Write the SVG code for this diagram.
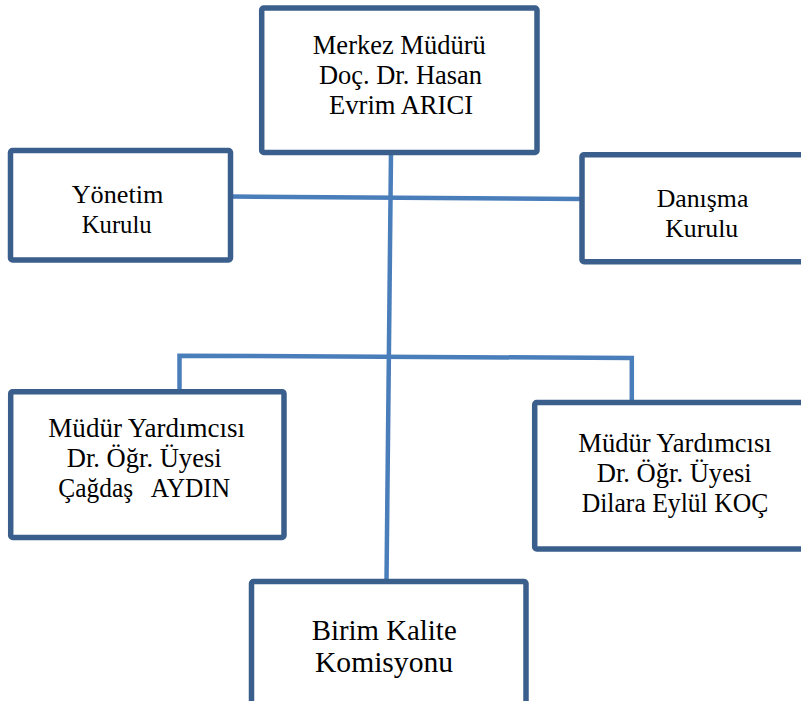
<svg xmlns="http://www.w3.org/2000/svg" width="801" height="701" viewBox="0 0 801 701">
<style>
.box{fill:#ffffff;stroke:#3a5f8d;stroke-width:5.5;stroke-linejoin:round}
.con{stroke:#4a7ebb;stroke-width:4.5;fill:none;stroke-linecap:butt}
</style>
<rect width="801" height="701" fill="#ffffff"/>
<g id="connectors">
<line class="con" x1="391" y1="153" x2="386.5" y2="581"/>
<line class="con" x1="231" y1="196.5" x2="582" y2="199"/>
<polyline class="con" points="179.5,393 179.5,355.7 631.8,358 631.8,402"/>
</g>
<g id="merkez">
<rect class="box" x="261.7" y="8" width="275.3" height="144.5" rx="2"/>
<text x="399.3" y="54" font-family="Liberation Serif" font-size="26.6" text-anchor="middle" textLength="173" lengthAdjust="spacingAndGlyphs">Merkez Müdürü</text>
<text x="400.5" y="84" font-family="Liberation Serif" font-size="26.6" text-anchor="middle" textLength="163" lengthAdjust="spacingAndGlyphs">Doç. Dr. Hasan</text>
<text x="401" y="114" font-family="Liberation Serif" font-size="26.6" text-anchor="middle" textLength="144" lengthAdjust="spacingAndGlyphs">Evrim ARICI</text>
</g>
<g id="yonetim">
<rect class="box" x="10.5" y="150.5" width="220" height="109.5" rx="2"/>
<text x="117.5" y="203.3" font-family="Liberation Serif" font-size="26" text-anchor="middle" textLength="91.6" lengthAdjust="spacingAndGlyphs">Yönetim</text>
<text x="116.7" y="233.3" font-family="Liberation Serif" font-size="26" text-anchor="middle" textLength="70" lengthAdjust="spacingAndGlyphs">Kurulu</text>
</g>
<g id="danisma">
<rect class="box" x="582" y="154.7" width="230" height="107" rx="2"/>
<text x="702.5" y="206.7" font-family="Liberation Serif" font-size="26" text-anchor="middle" textLength="91.7" lengthAdjust="spacingAndGlyphs">Danışma</text>
<text x="701.7" y="236.7" font-family="Liberation Serif" font-size="26" text-anchor="middle" textLength="73" lengthAdjust="spacingAndGlyphs">Kurulu</text>
</g>
<g id="mudur-yrd-1">
<rect class="box" x="10.7" y="391.7" width="273.3" height="145.8" rx="2"/>
<text x="146.7" y="436.7" font-family="Liberation Serif" font-size="27.5" text-anchor="middle" textLength="196.7" lengthAdjust="spacingAndGlyphs">Müdür Yardımcısı</text>
<text x="144.2" y="466.7" font-family="Liberation Serif" font-size="27.5" text-anchor="middle" textLength="155" lengthAdjust="spacingAndGlyphs">Dr. Öğr. Üyesi</text>
<text x="144.2" y="496.7" font-family="Liberation Serif" font-size="27.5" text-anchor="middle" textLength="171.7" lengthAdjust="spacingAndGlyphs" xml:space="preserve">Çağdaş   AYDIN</text>
</g>
<g id="mudur-yrd-2">
<rect class="box" x="534.7" y="402.5" width="280" height="146.5" rx="2"/>
<text x="675" y="451.7" font-family="Liberation Serif" font-size="27.5" text-anchor="middle" textLength="193.4" lengthAdjust="spacingAndGlyphs">Müdür Yardımcısı</text>
<text x="674.2" y="481.7" font-family="Liberation Serif" font-size="27.5" text-anchor="middle" textLength="155" lengthAdjust="spacingAndGlyphs">Dr. Öğr. Üyesi</text>
<text x="675" y="511.7" font-family="Liberation Serif" font-size="27.5" text-anchor="middle" textLength="186.6" lengthAdjust="spacingAndGlyphs">Dilara Eylül KOÇ</text>
</g>
<g id="birim-kalite">
<rect class="box" x="251.5" y="581.5" width="274.5" height="140" rx="2"/>
<text x="384.2" y="640" font-family="Liberation Serif" font-size="28.5" text-anchor="middle" textLength="145" lengthAdjust="spacingAndGlyphs">Birim Kalite</text>
<text x="384" y="671.7" font-family="Liberation Serif" font-size="28.5" text-anchor="middle" textLength="138" lengthAdjust="spacingAndGlyphs">Komisyonu</text>
</g>
</svg>
